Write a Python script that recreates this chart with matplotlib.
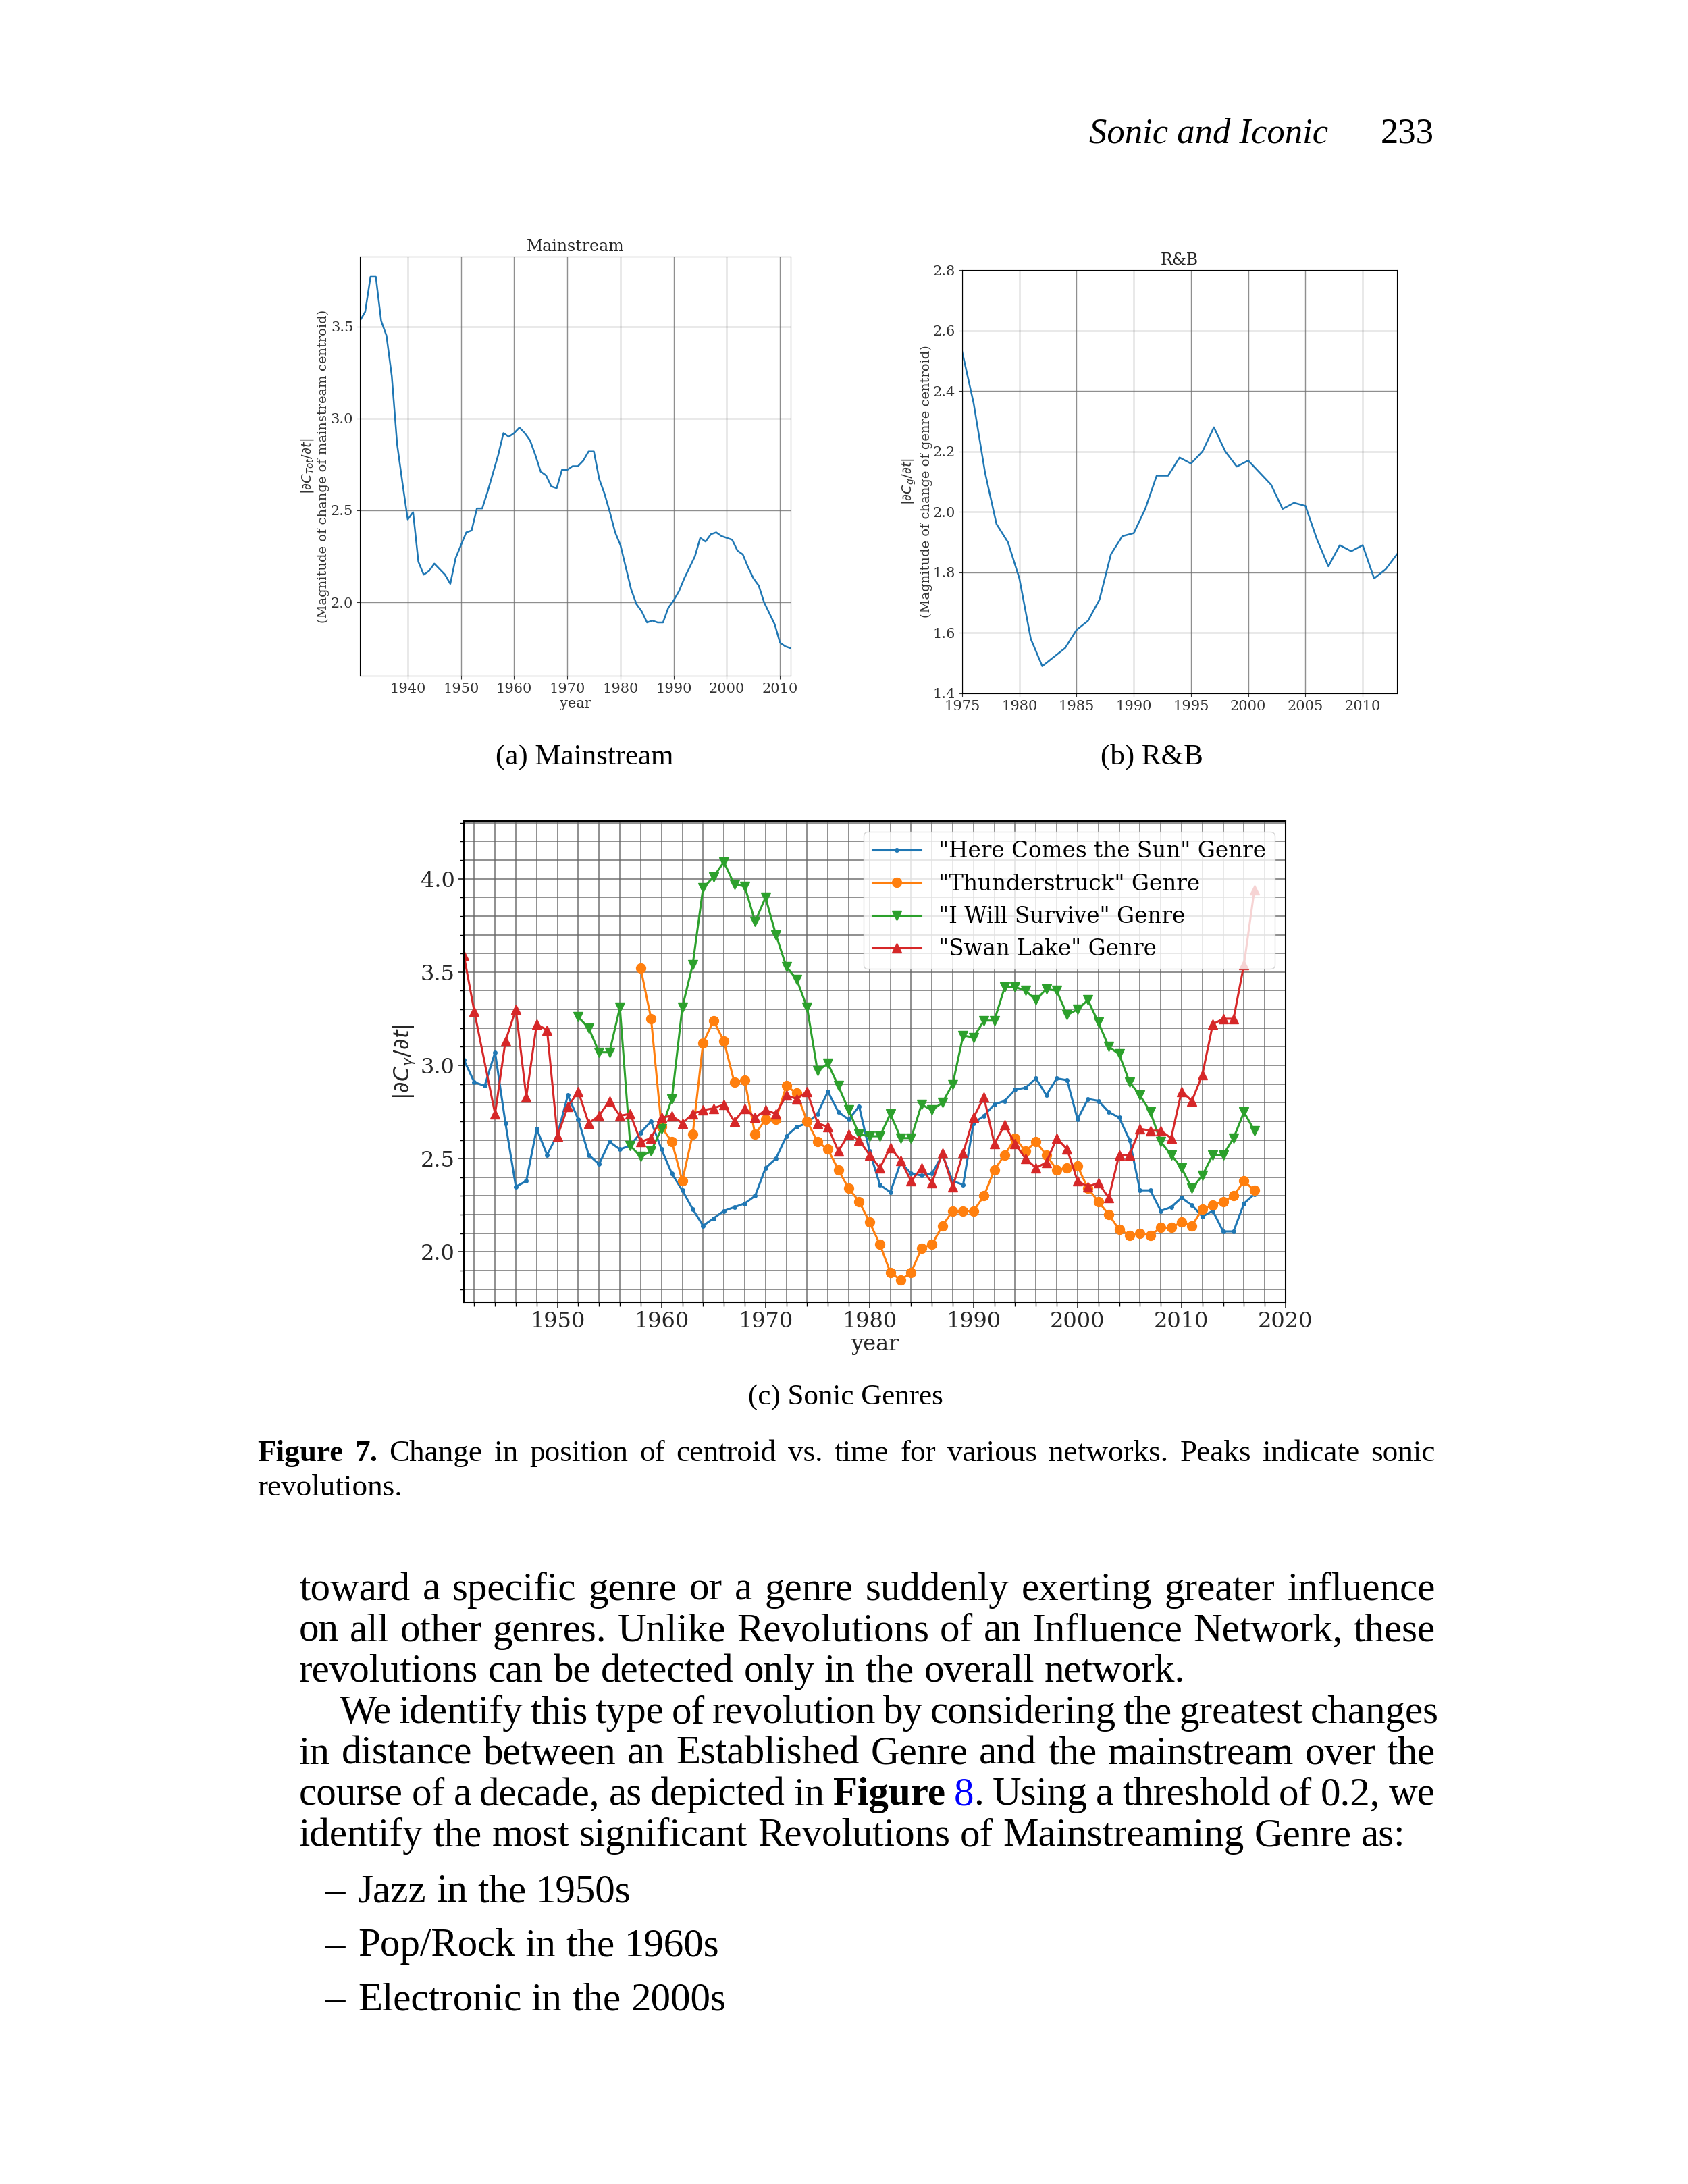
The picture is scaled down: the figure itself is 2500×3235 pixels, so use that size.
import numpy as np
import matplotlib
matplotlib.use("Agg")
import matplotlib.pyplot as plt
from matplotlib.ticker import MultipleLocator, FormatStrFormatter

# ---- data ----
main_years = np.arange(1931, 2013)
main_vals = [3.53, 3.58, 3.77, 3.77, 3.53, 3.45, 3.23, 2.86, 2.65, 2.45,
             2.49, 2.22, 2.15, 2.17, 2.21, 2.18, 2.15, 2.10, 2.24, 2.31,
             2.38, 2.39, 2.51, 2.51, 2.60, 2.70, 2.80, 2.92, 2.90, 2.92,
             2.95, 2.92, 2.88, 2.80, 2.71, 2.69, 2.63, 2.62, 2.72, 2.72,
             2.74, 2.74, 2.77, 2.82, 2.82, 2.67, 2.59, 2.49, 2.38, 2.31,
             2.19, 2.07, 1.99, 1.95, 1.89, 1.90, 1.89, 1.89, 1.97, 2.01,
             2.06, 2.13, 2.19, 2.25, 2.35, 2.33, 2.37, 2.38, 2.36, 2.35,
             2.34, 2.28, 2.26, 2.19, 2.13, 2.09, 2.00, 1.94, 1.88, 1.78,
             1.76, 1.75]

rb_years = np.arange(1975, 2014)
rb_vals = [2.53, 2.36, 2.13, 1.96, 1.90, 1.78, 1.58, 1.49, 1.52, 1.55,
           1.61, 1.64, 1.71, 1.86, 1.92, 1.93, 2.01, 2.12, 2.12, 2.18,
           2.16, 2.20, 2.28, 2.20, 2.15, 2.17, 2.13, 2.09, 2.01, 2.03,
           2.02, 1.91, 1.82, 1.89, 1.87, 1.89, 1.78, 1.81, 1.86]

sun_years = np.arange(1941, 2018)
sun_vals = [3.03, 2.91, 2.89, 3.07, 2.69, 2.35, 2.38, 2.66, 2.52, 2.63,
            2.84, 2.71, 2.52, 2.47, 2.59, 2.55, 2.57, 2.64, 2.70, 2.55,
            2.42, 2.33, 2.23, 2.14, 2.18, 2.22, 2.24, 2.26, 2.30, 2.45,
            2.50, 2.62, 2.67, 2.69, 2.74, 2.86, 2.75, 2.71, 2.78, 2.54,
            2.36, 2.32, 2.48, 2.42, 2.41, 2.42, 2.52, 2.38, 2.36, 2.69,
            2.73, 2.79, 2.81, 2.87, 2.88, 2.93, 2.84, 2.93, 2.92, 2.71,
            2.82, 2.81, 2.75, 2.72, 2.60, 2.33, 2.33, 2.22, 2.24, 2.29,
            2.25, 2.19, 2.22, 2.11, 2.11, 2.26, 2.31]

thunder_years = np.arange(1958, 2018)
thunder_vals = [3.52, 3.25, 2.67,
                2.59, 2.38, 2.63, 3.12, 3.24, 3.13, 2.91, 2.92, 2.63, 2.71,
                2.71, 2.89, 2.85, 2.70, 2.59, 2.55, 2.44, 2.34, 2.27, 2.16,
                2.04, 1.89, 1.85, 1.89, 2.02, 2.04, 2.14, 2.22, 2.22, 2.22,
                2.30, 2.44, 2.52, 2.61, 2.54, 2.59, 2.52, 2.44, 2.45, 2.46,
                2.34, 2.27, 2.20, 2.12, 2.09, 2.10, 2.09, 2.13, 2.13, 2.16,
                2.14, 2.23, 2.25, 2.27, 2.30, 2.38, 2.33]

survive_years = np.arange(1952, 2018)
survive_vals = [3.26, 3.20, 3.07, 3.07, 3.31, 2.57, 2.51, 2.54, 2.66,
                2.82, 3.31, 3.54, 3.95, 4.01, 4.09, 3.97, 3.96, 3.77, 3.90,
                3.70, 3.53, 3.46, 3.31, 2.97, 3.01, 2.89, 2.76, 2.63, 2.62,
                2.62, 2.74, 2.61, 2.61, 2.79, 2.76, 2.80, 2.90, 3.16, 3.15,
                3.24, 3.24, 3.42, 3.42, 3.40, 3.35, 3.41, 3.40, 3.27, 3.30,
                3.35, 3.23, 3.10, 3.06, 2.91, 2.84, 2.75, 2.59, 2.52, 2.45,
                2.34, 2.41, 2.52, 2.52, 2.61, 2.75, 2.65]

swan_years = [1941, 1942] + list(range(1944, 2018))
swan_vals = [3.59, 3.29, 2.74, 3.13, 3.30, 2.83, 3.22, 3.19, 2.62,
             2.78, 2.86, 2.69, 2.73, 2.81, 2.73, 2.74, 2.59, 2.61, 2.72,
             2.73, 2.69, 2.74, 2.76, 2.77, 2.79, 2.70, 2.77, 2.72, 2.76,
             2.74, 2.84, 2.82, 2.86, 2.69, 2.67, 2.54, 2.63, 2.60, 2.52,
             2.45, 2.56, 2.49, 2.38, 2.45, 2.37, 2.53, 2.35, 2.53, 2.72,
             2.83, 2.58, 2.68, 2.58, 2.50, 2.45, 2.48, 2.61, 2.55, 2.38,
             2.35, 2.37, 2.29, 2.52, 2.52, 2.66, 2.65, 2.65, 2.61, 2.86,
             2.81, 2.95, 3.22, 3.25, 3.25, 3.54, 3.94]

genre_labels = ['"Here Comes the Sun" Genre', '"Thunderstruck" Genre',
                '"I Will Survive" Genre', '"Swan Lake" Genre']

body_lines = [
    "toward a specific genre or a genre suddenly exerting greater influence",
    "on all other genres.  Unlike Revolutions of an Influence Network, these",
    "revolutions can be detected only in the overall network.",
    "We identify this type of revolution by considering the greatest changes",
    "in distance between an Established Genre and the mainstream over the",
    None,  # line with bold / coloured reference, built below
    "identify the most significant Revolutions of Mainstreaming Genre as:",
]
bullets = ["Jazz in the 1950s", "Pop/Rock in the 1960s", "Electronic in the 2000s"]

plt.rcParams['font.family'] = 'DejaVu Serif'
SERIF = 'Liberation Serif'

W, H = 2500, 3235
fig = plt.figure(figsize=(W / 100, H / 100), dpi=100)
renderer = fig.canvas.get_renderer()


def box(l, t, r, b):
    return [l / W, 1 - b / H, (r - l) / W, (b - t) / H]


def measure(s, size, **kw):
    t = fig.text(0, 0, s, fontsize=size, **kw)
    w = t.get_window_extent(renderer).width
    t.remove()
    return w


def fit(s, target, **kw):
    return 20 * target / measure(s, 20, **kw)


def put(x, y, s, size, **kw):
    fig.text(x / W, 1 - y / H, s, fontsize=size, va='baseline', **kw)


def draw_line(words, x0, y, size, x1=None):
    # words: list of lists of (text, kwargs) segments
    widths = [[measure(t, size, **kw) for t, kw in w] for w in words]
    tot = sum(sum(w) for w in widths)
    if x1 is not None and len(words) > 1:
        gap = (x1 - x0 - tot) / (len(words) - 1)
    else:
        gap = measure('a a', size, family=SERIF) - measure('aa', size, family=SERIF)
    x = x0
    for w, ws in zip(words, widths):
        for (t, kw), wi in zip(w, ws):
            put(x, y, t, size, ha='left', **kw)
            x += wi
        x += gap


def plain(s):
    return [[(w, dict(family=SERIF))] for w in s.split()]


GRID = dict(color='0.45', linewidth=1.0, alpha=0.8)
BLUE = '#1f77b4'

# ---- (a) Mainstream ----
axA = fig.add_axes(box(533, 380, 1171, 1001))
axA.plot(main_years, main_vals, color=BLUE, lw=1.8)
axA.set_xlim(1931, 2012)
axA.set_ylim(1.60, 3.88)
axA.set_xticks(range(1940, 2011, 10))
axA.set_yticks([2.0, 2.5, 3.0, 3.5])
axA.grid(**GRID)
axA.tick_params(labelsize=15, colors='0.2')
axA.set_title('Mainstream', fontsize=17, color='0.15')
axA.set_xlabel('year', fontsize=15, color='0.2', labelpad=2)
axA.set_ylabel('$|\\partial C_{Tot}/\\partial t|$\n(Magnitude of change of mainstream centroid)',
               fontsize=14, color='0.2', labelpad=1)

# ---- (b) R&B ----
axB = fig.add_axes(box(1425, 400, 2069, 1027))
axB.plot(rb_years, rb_vals, color=BLUE, lw=1.8)
axB.set_xlim(1975, 2013)
axB.set_ylim(1.4, 2.8)
axB.set_xticks(range(1975, 2011, 5))
axB.set_yticks(np.arange(1.4, 2.81, 0.2))
axB.yaxis.set_major_formatter(FormatStrFormatter('%.1f'))
axB.grid(**GRID)
axB.tick_params(labelsize=15, colors='0.2')
axB.set_title('R&B', fontsize=17, color='0.15')
axB.set_ylabel('$|\\partial C_g/\\partial t|$\n(Magnitude of change of genre centroid)',
               fontsize=14, color='0.2', labelpad=1)

# ---- (c) Sonic Genres ----
axC = fig.add_axes(box(687, 1216, 1904, 1929))
axC.plot(sun_years, sun_vals, color=BLUE, lw=2.2, marker='.', ms=8, label=genre_labels[0])
axC.plot(thunder_years, thunder_vals, color='#ff7f0e', lw=2.2, marker='o', ms=10, label=genre_labels[1])
axC.plot(survive_years, survive_vals, color='#2ca02c', lw=2.2, marker='v', ms=10, label=genre_labels[2])
axC.plot(swan_years, swan_vals, color='#d62728', lw=2.2, marker='^', ms=10, label=genre_labels[3])
axC.set_xlim(1941, 2020)
axC.set_ylim(1.73, 4.31)
axC.xaxis.set_major_locator(MultipleLocator(10))
axC.xaxis.set_minor_locator(MultipleLocator(2))
axC.yaxis.set_major_locator(MultipleLocator(0.5))
axC.yaxis.set_minor_locator(MultipleLocator(0.1))
axC.yaxis.set_major_formatter(FormatStrFormatter('%.1f'))
axC.grid(which='both', color='0.4', linewidth=1.2, alpha=0.85)
axC.tick_params(labelsize=23, colors='0.15', length=6, width=1.2)
axC.tick_params(which='minor', length=4, width=1.0)
for sp in axC.spines.values():
    sp.set_linewidth(1.5)
axC.set_xlabel('year', fontsize=23, color='0.15', labelpad=2)
axC.set_ylabel('$|\\partial C_\\gamma/\\partial t|$', fontsize=23, color='0.15')
axC.legend(loc='upper right', fontsize=23.5, handlelength=2.2)

# ---- page text ----
hs = fit('Sonic and Iconic', 354, family=SERIF, style='italic')
put(1967, 211, 'Sonic and Iconic', hs, ha='right', family=SERIF, style='italic')
put(2124, 211, '233', hs, ha='right', family=SERIF)

sub = fit('(c) Sonic Genres', 289, family=SERIF)
put(866, 1132, '(a) Mainstream', sub, ha='center', family=SERIF)
put(1706, 1132, '(b) R&B', sub, ha='center', family=SERIF)
put(1252, 2080, '(c) Sonic Genres', sub, ha='center', family=SERIF)

cap = fit('revolutions.', 214, family=SERIF)
bold = dict(family=SERIF, weight='bold')
cap_words = [[('Figure', bold)], [('7.', bold)]] + plain(
    'Change in position of centroid vs. time for various networks. Peaks indicate sonic')
draw_line(cap_words, 381, 2164, cap, x1=2126)
draw_line(plain('revolutions.'), 381, 2215, cap)

body = fit(body_lines[2], 1312, family=SERIF)
fig_line = plain('course of a decade, as depicted in') + [[('Figure', bold)]] + \
    [[('8', dict(family=SERIF, color='#0000ff')), ('.', dict(family=SERIF))]] + \
    plain('Using a threshold of 0.2, we')
y0, dy = 2370, 60.7
for i, s in enumerate(body_lines):
    y = y0 + i * dy
    words = fig_line if s is None else plain(s)
    left = 503 if i == 3 else 443
    right = 2131 if i == 3 else 2126
    if i in (2, 6):
        draw_line(words, left, y, body)
    else:
        draw_line(words, left, y, body, x1=right)

for i, s in enumerate(bullets):
    y = 2817 + i * 80.5
    put(481, y, '\u2013', body, ha='left', family=SERIF)
    draw_line(plain(s), 530, y, body)

fig.savefig('out.png', dpi=100, facecolor='white')
